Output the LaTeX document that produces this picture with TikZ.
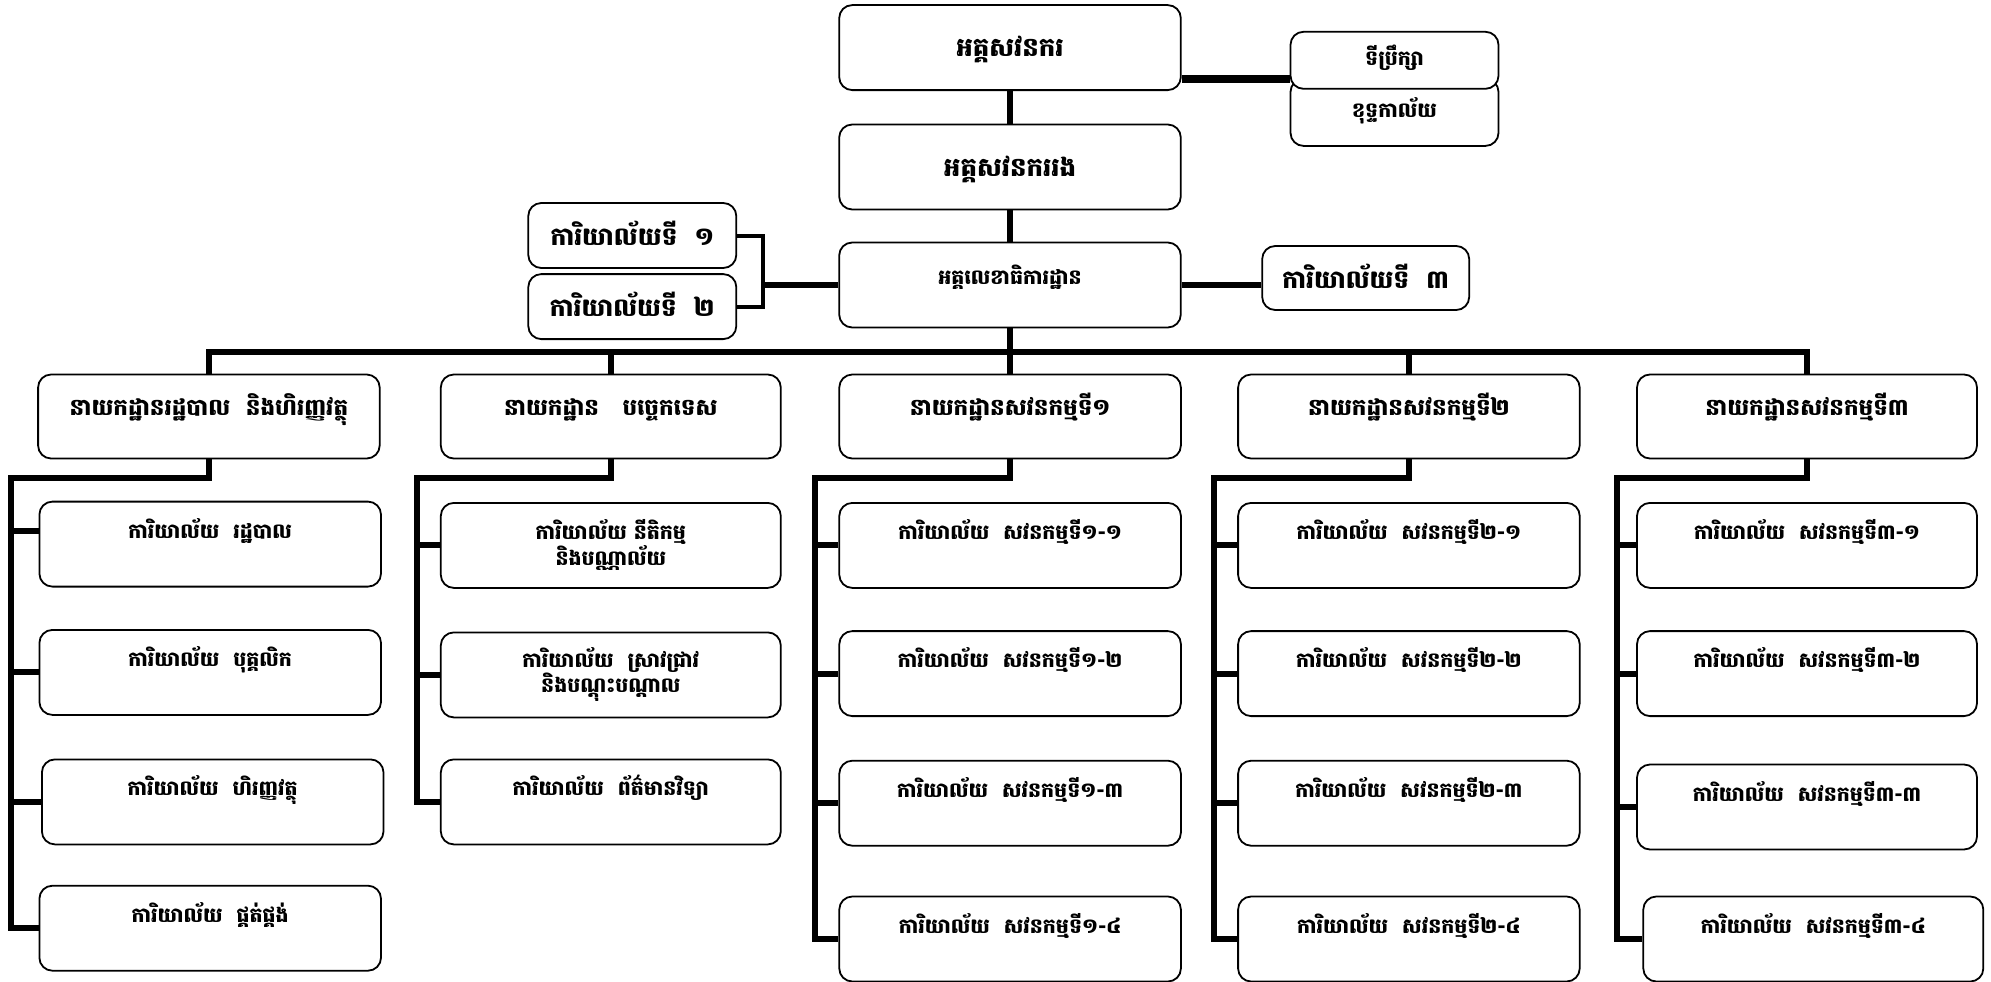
\documentclass[tikz,border=0pt]{standalone}
\usepackage{fontspec}
\newfontfamily\kh[Script=Khmer]{Battambang}
\begin{document}
\begin{tikzpicture}[x=1pt,y=-1pt,
  box/.style={draw, line width=1.8pt, rounded corners=13pt, fill=white, align=center, inner sep=0pt,
    font=\kh\bfseries\fontsize{20.5}{25}\selectfont, minimum width=341.6pt, minimum height=85pt},
  bigfont/.style={font=\kh\bfseries\fontsize{26}{30}\selectfont, text height=20pt, text depth=2pt},
  midfont/.style={font=\kh\bfseries\fontsize{25}{30}\selectfont, text height=22pt, text depth=2pt},
  midtext/.style={text height=12pt, text depth=2pt},
  hitext/.style={text height=12pt, text depth=14pt},
  toptext/.style={text height=12pt, text depth=24pt},
  small/.style={minimum width=208pt, minimum height=65pt},
  dept/.style={box, hitext, font=\kh\bfseries\fontsize{23}{28}\selectfont, minimum height=84pt},
  child/.style={box, toptext},
  twoline/.style={box},
  conn/.style={line width=6pt},
  thinconn/.style={line width=4pt},
  heavyconn/.style={line width=8pt}]
\useasboundingbox (0,0) rectangle (1991,982);
% top level
\node[box, bigfont] (ig) at (1010,47.6) {អគ្គសវនករ};
\node[box, midtext, minimum width=208pt, minimum height=67pt] (cab) at (1394.5,112.4) {ខុទ្ទកាល័យ};
\node[box, midtext, minimum width=208pt, minimum height=57pt] (adv) at (1394.5,60.3) {ទីប្រឹក្សា};
\node[box, bigfont] (dig) at (1010,167) {អគ្គសវនកររង};
\node[box, hitext] (sec) at (1010,285) {អគ្គលេខាធិការដ្ឋាន};
\node[box, midfont, small] (o1) at (632.3,235.5) {ការិយាល័យទី\ \ ១};
\node[box, midfont, small] (o2) at (632.3,306.6) {ការិយាល័យទី\ \ ២};
\node[box, midfont, small, minimum width=207pt, minimum height=64pt] (o3) at (1365.7,278) {ការិយាល័យទី\ \ ៣};
% departments
\node[dept] (d1) at (208.9,416.5) {នាយកដ្ឋានរដ្ឋបាល\ \ និងហិរញ្ញវត្ថុ};
\node[dept, minimum width=340pt] (d2) at (610.8,416.5) {នាយកដ្ឋាន\ \ \ បច្ចេកទេស};
\node[dept] (d3) at (1010.1,416.5) {នាយកដ្ឋានសវនកម្មទី១};
\node[dept] (d4) at (1408.9,416.5) {នាយកដ្ឋានសវនកម្មទី២};
\node[dept, minimum width=340pt] (d5) at (1807,416.5) {នាយកដ្ឋានសវនកម្មទី៣};
% column 1
\node[child] (c11) at (210.2,544.1) {ការិយាល័យ\ \ រដ្ឋបាល};
\node[child] (c12) at (210.2,672.4) {ការិយាល័យ\ \ បុគ្គលិក};
\node[child] (c13) at (212.7,801.9) {ការិយាល័យ\ \ ហិរញ្ញវត្ថុ};
\node[child] (c14) at (210.2,928.2) {ការិយាល័យ\ \ ផ្គត់ផ្គង់};
% column 2
\node[twoline, minimum width=340pt] (c21) at (610.8,545.4) {ការិយាល័យ\ នីតិកម្ម\\និងបណ្ណាល័យ};
\node[twoline, minimum width=340pt] (c22) at (610.8,674.9) {ការិយាល័យ\ \ ស្រាវជ្រាវ\\និងបណ្តុះបណ្តាល};
\node[child, minimum width=340pt] (c23) at (610.8,801.9) {ការិយាល័យ\ \ ព័ត៌មានវិទ្យា};
% column 3
\node[child] (c31) at (1010.1,545.4) {ការិយាល័យ\ \ សវនកម្មទី១-១};
\node[child] (c32) at (1010.1,673.6) {ការិយាល័យ\ \ សវនកម្មទី១-២};
\node[child] (c33) at (1010.1,803.2) {ការិយាល័យ\ \ សវនកម្មទី១-៣};
\node[child] (c34) at (1010.1,939.0) {ការិយាល័យ\ \ សវនកម្មទី១-៤};
% column 4
\node[child] (c41) at (1408.9,545.4) {ការិយាល័យ\ \ សវនកម្មទី២-១};
\node[child] (c42) at (1408.9,673.6) {ការិយាល័យ\ \ សវនកម្មទី២-២};
\node[child] (c43) at (1408.9,803.2) {ការិយាល័យ\ \ សវនកម្មទី២-៣};
\node[child] (c44) at (1408.9,939.0) {ការិយាល័យ\ \ សវនកម្មទី២-៤};
% column 5
\node[child, minimum width=340pt] (c51) at (1807,545.4) {ការិយាល័យ\ \ សវនកម្មទី៣-១};
\node[child, minimum width=340pt] (c52) at (1807,673.6) {ការិយាល័យ\ \ សវនកម្មទី៣-២};
\node[child, minimum width=340pt] (c53) at (1807,807) {ការិយាល័យ\ \ សវនកម្មទី៣-៣};
\node[child, minimum width=340pt] (c54) at (1813.3,939.0) {ការិយាល័យ\ \ សវនកម្មទី៣-៤};
% connectors top
\draw[heavyconn] ([yshift=-31pt]ig.east) -- ([yshift=-31pt]ig.east -| adv.west);
\draw[conn] (ig) -- (dig);
\draw[conn] (dig) -- (sec);
\draw[conn] (sec.east) -- (sec.east -| o3.west);
\coordinate (br) at ([xshift=25.5pt]o1.east);
\draw[thinconn] (o1.east) -- (br) |- (o2.east);
\draw[conn] (sec.west) -- (sec.west -| br);
% bus
\coordinate (bus) at ([yshift=-24pt]sec.south);
\draw[conn] (sec.south) -- (bus);
\draw[conn] (d1.north) |- (bus) -| (d5.north);
\draw[conn] (d2.north) -- (d2.north |- bus);
\draw[conn] (d3.north) -- (d3.north |- bus);
\draw[conn] (d4.north) -- (d4.north |- bus);
% rails
\coordinate (r1) at (11.4,477.5);
\coordinate (r2) at (416.5,477.5);
\coordinate (r3) at (815.2,477.5);
\coordinate (r4) at (1214,477.5);
\coordinate (r5) at (1616.5,477.5);
\draw[conn] (d1.south) |- (r1) |- (c14.west);
\draw[conn] ([yshift=13pt]c11.west) -- ([yshift=13pt]c11.west -| r1);
\draw[conn] (c12.west) -- (c12.west -| r1);
\draw[conn] (c13.west) -- (c13.west -| r1);
\draw[conn] (d2.south) |- (r2) |- (c23.west);
\draw[conn] (c21.west) -- (c21.west -| r2);
\draw[conn] (c22.west) -- (c22.west -| r2);
\draw[conn] (d3.south) |- (r3) |- (c34.west);
\draw[conn] (c31.west) -- (c31.west -| r3);
\draw[conn] (c32.west) -- (c32.west -| r3);
\draw[conn] (c33.west) -- (c33.west -| r3);
\draw[conn] (d4.south) |- (r4) |- (c44.west);
\draw[conn] (c41.west) -- (c41.west -| r4);
\draw[conn] (c42.west) -- (c42.west -| r4);
\draw[conn] (c43.west) -- (c43.west -| r4);
\draw[conn] (d5.south) |- (r5) |- (c54.west);
\draw[conn] (c51.west) -- (c51.west -| r5);
\draw[conn] (c52.west) -- (c52.west -| r5);
\draw[conn] (c53.west) -- (c53.west -| r5);
\end{tikzpicture}
\end{document}
